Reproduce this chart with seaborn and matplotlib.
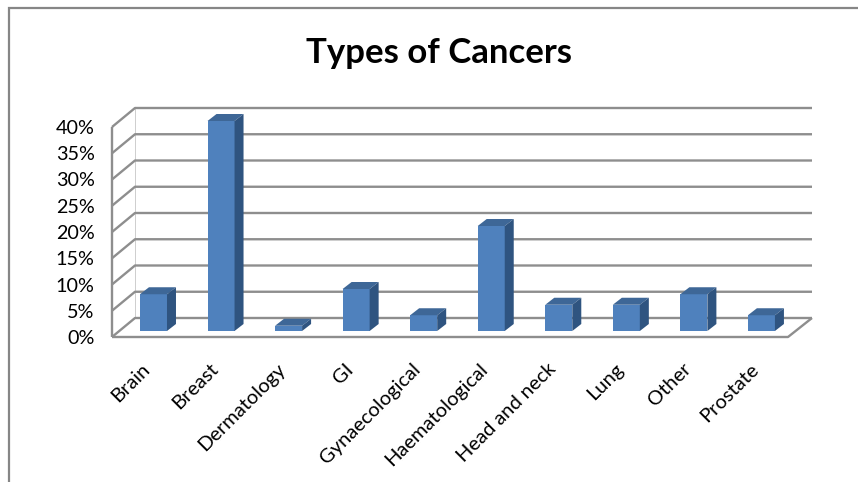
import matplotlib
matplotlib.use("Agg")
import matplotlib.pyplot as plt
import matplotlib.transforms as mtrans
from matplotlib.lines import Line2D
from matplotlib.patches import Polygon
import pandas as pd
import seaborn as sns

categories = ["Brain", "Breast", "Dermatology", "GI", "Gynaecological",
              "Haematological", "Head and neck", "Lung", "Other", "Prostate"]
percent = [7, 40, 1, 8, 3, 20, 5, 5, 7, 3]
y_ticks = [0, 5, 10, 15, 20, 25, 30, 35, 40]

W, H = 858, 482
BAR_FRONT = "#4F81BD"
BAR_TOP = "#3E6797"
BAR_SIDE = "#2F5480"
GRID = "#8E8E8E"

sns.set_theme(style="white", rc={"font.family": ["Lato", "DejaVu Sans"]})

fig = plt.figure(figsize=(W / 100, H / 100), dpi=100, facecolor="white")

# axes box in pixels, bars sit half way into the floor
left, right, zero_y, top_y = 119.7, 795.2, 331.0, 121.0
ax = fig.add_axes([left / W, 1 - zero_y / H, (right - left) / W, (zero_y - top_y) / H])

df = pd.DataFrame({"cat": categories, "pct": percent})
sns.barplot(data=df, x="cat", y="pct", color=BAR_FRONT, saturation=1, width=0.4, ax=ax, zorder=3)
ax.set_xlim(-0.5, 9.5)
ax.set_ylim(0, 40)
ax.set_xlabel("")
ax.set_ylabel("")
for s in ax.spines.values():
    s.set_visible(False)

# px -> data
ux = (right - left) / 10
uy = (zero_y - top_y) / 40


def dx(px):
    return px / ux


def dy(px):
    return px / uy


# floor and walls
x_front_l, x_front_r = dx(112 - left) - 0.5, dx(788 - left) - 0.5
x_back_l, x_back_r = dx(135 - left) - 0.5, dx(812 - left) - 0.5
y_front, y_back = dy(-6), dy(13)
line_kw = dict(color=GRID, lw=1.7, clip_on=False, zorder=1, solid_capstyle="butt")

for t in y_ticks:
    ax.plot([x_front_l, x_back_l, x_back_r], [t + y_front, t + y_back, t + y_back], **line_kw)
ax.plot([x_front_l, x_front_l], [y_front, 40 + y_front], **line_kw)
ax.plot([x_back_l, x_back_l], [y_back, 40 + y_back], color=GRID, lw=0.6, alpha=0.5, clip_on=False, zorder=1)
ax.plot([x_front_l, x_front_r, x_back_r], [y_front, y_front, y_back], **line_kw)

# 3d sides of the bars taken from the seaborn patches
depth_x, depth_y = dx(9), dy(7)
for p in list(ax.patches):
    x0, w, h = p.get_x(), p.get_width(), p.get_height()
    p.set_linewidth(0)
    ax.add_patch(Polygon([(x0, h), (x0 + w, h), (x0 + w + depth_x, h + depth_y), (x0 + depth_x, h + depth_y)],
                         facecolor=BAR_TOP, lw=0, clip_on=False, zorder=3))
    ax.add_patch(Polygon([(x0 + w, 0), (x0 + w + depth_x, depth_y), (x0 + w + depth_x, h + depth_y), (x0 + w, h)],
                         facecolor=BAR_SIDE, lw=0, clip_on=False, zorder=3))

# tick labels
ax.set_yticks(y_ticks)
ax.set_yticklabels([f"{t}%" for t in y_ticks], fontsize=14.2, color="black")
ax.tick_params(axis="y", length=0, pad=18)
ax.tick_params(axis="x", length=0, pad=21)
ax.set_xticks(range(len(categories)))
ax.set_xticklabels(categories, rotation=45, ha="right", va="top", rotation_mode="anchor",
                   fontsize=14.5, color="black")
shift_y = mtrans.ScaledTranslation(0, -6 / 100, fig.dpi_scale_trans)
for lab in ax.get_yticklabels():
    lab.set_transform(lab.get_transform() + shift_y)
shift_x = mtrans.ScaledTranslation(-12 / 100, 0, fig.dpi_scale_trans)
for lab in ax.get_xticklabels():
    lab.set_transform(lab.get_transform() + shift_x)

fig.text(439.5 / W, 1 - 53 / H, "Types of Cancers", ha="center", va="center",
         fontsize=25, fontweight="bold", color="black")

# outer chart border, only top and left show
fig.add_artist(Line2D([9 / W, 9 / W, 1], [0, 1 - 8 / H, 1 - 8 / H], color="#868686", lw=1.6,
                      solid_joinstyle="miter"))

fig.savefig("out.png", dpi=100)
